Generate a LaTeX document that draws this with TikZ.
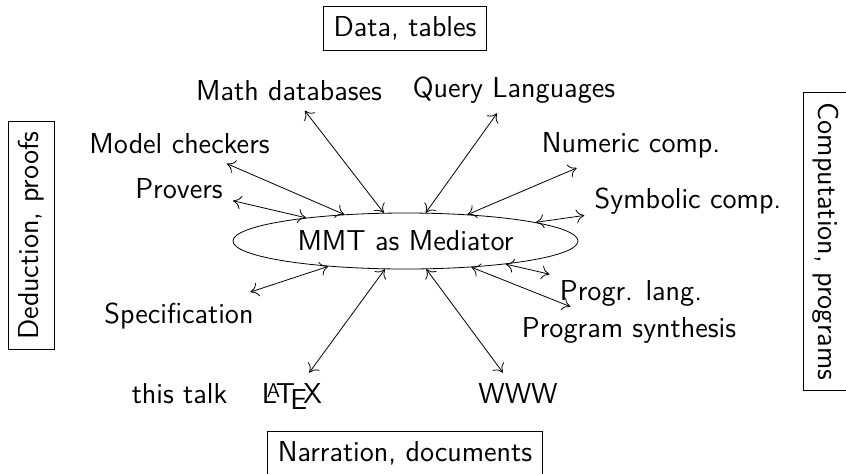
\documentclass[tikz,border=0pt]{standalone}
\usepackage{tikz}
\usetikzlibrary{arrows.meta,shapes.geometric}

\begin{document}
\begin{tikzpicture}[x=0.5pt,y=-0.5pt,font=\sffamily\Large,
        every node/.style={inner sep=5pt},
        area/.style={draw,inner sep=5pt},
        >={To[length=4pt,width=7pt]}]
        \useasboundingbox (0,0) rectangle (846,473);

        \node[ellipse,draw,inner sep=0pt,minimum width=172.5pt,minimum height=28pt] (mmt) at (405.5,241) {MMT as Mediator};

        \node[area] (data) at (405,28.5) {Data, tables};
        \node[area] (narr) at (405,453.5) {Narration, documents};
        \node[area,rotate=90] (ded) at (31,235.5) {Deduction, proofs};
        \node[area,rotate=-90] (comp) at (826,241.5) {Computation, programs};

        \node[anchor=base] (math) at (289,100) {Math databases};
        \node[anchor=base] (query) at (514,97) {Query Languages};
        \node[anchor=base] (model) at (179.5,153) {Model checkers};
        \node[anchor=base] (prov) at (179,198) {Provers};
        \node[anchor=base] (num) at (631,152) {Numeric comp.};
        \node[anchor=base] (sym) at (688,208) {Symbolic comp.};
        \node[anchor=base] (progr) at (631,300) {Progr. lang.};
        \node[anchor=base] (synth) at (629,337) {Program synthesis};
        \node[anchor=base] (spec) at (179,323) {Specification};
        \node[anchor=base] (talk) at (179.5,403) {this talk};
        \node[anchor=base] (latex) at (292,403) {\LaTeX};
        \node[anchor=base] (www) at (518,403) {WWW};

        \draw[<->] (mmt) -- (math);
        \draw[<->] (mmt) -- (query);
        \draw[<->] (mmt) -- (model);
        \draw[<->] (mmt) -- (prov);
        \draw[<->] (mmt) -- (num);
        \draw[<->] (mmt) -- (sym);
        \draw[<->] (mmt) -- (progr);
        \draw[<->] (mmt) -- (synth);
        \draw[<->] (mmt) -- (spec);
        \draw[<->] (mmt) -- (latex);
        \draw[<->] (mmt) -- (www);
\end{tikzpicture}
\end{document}
